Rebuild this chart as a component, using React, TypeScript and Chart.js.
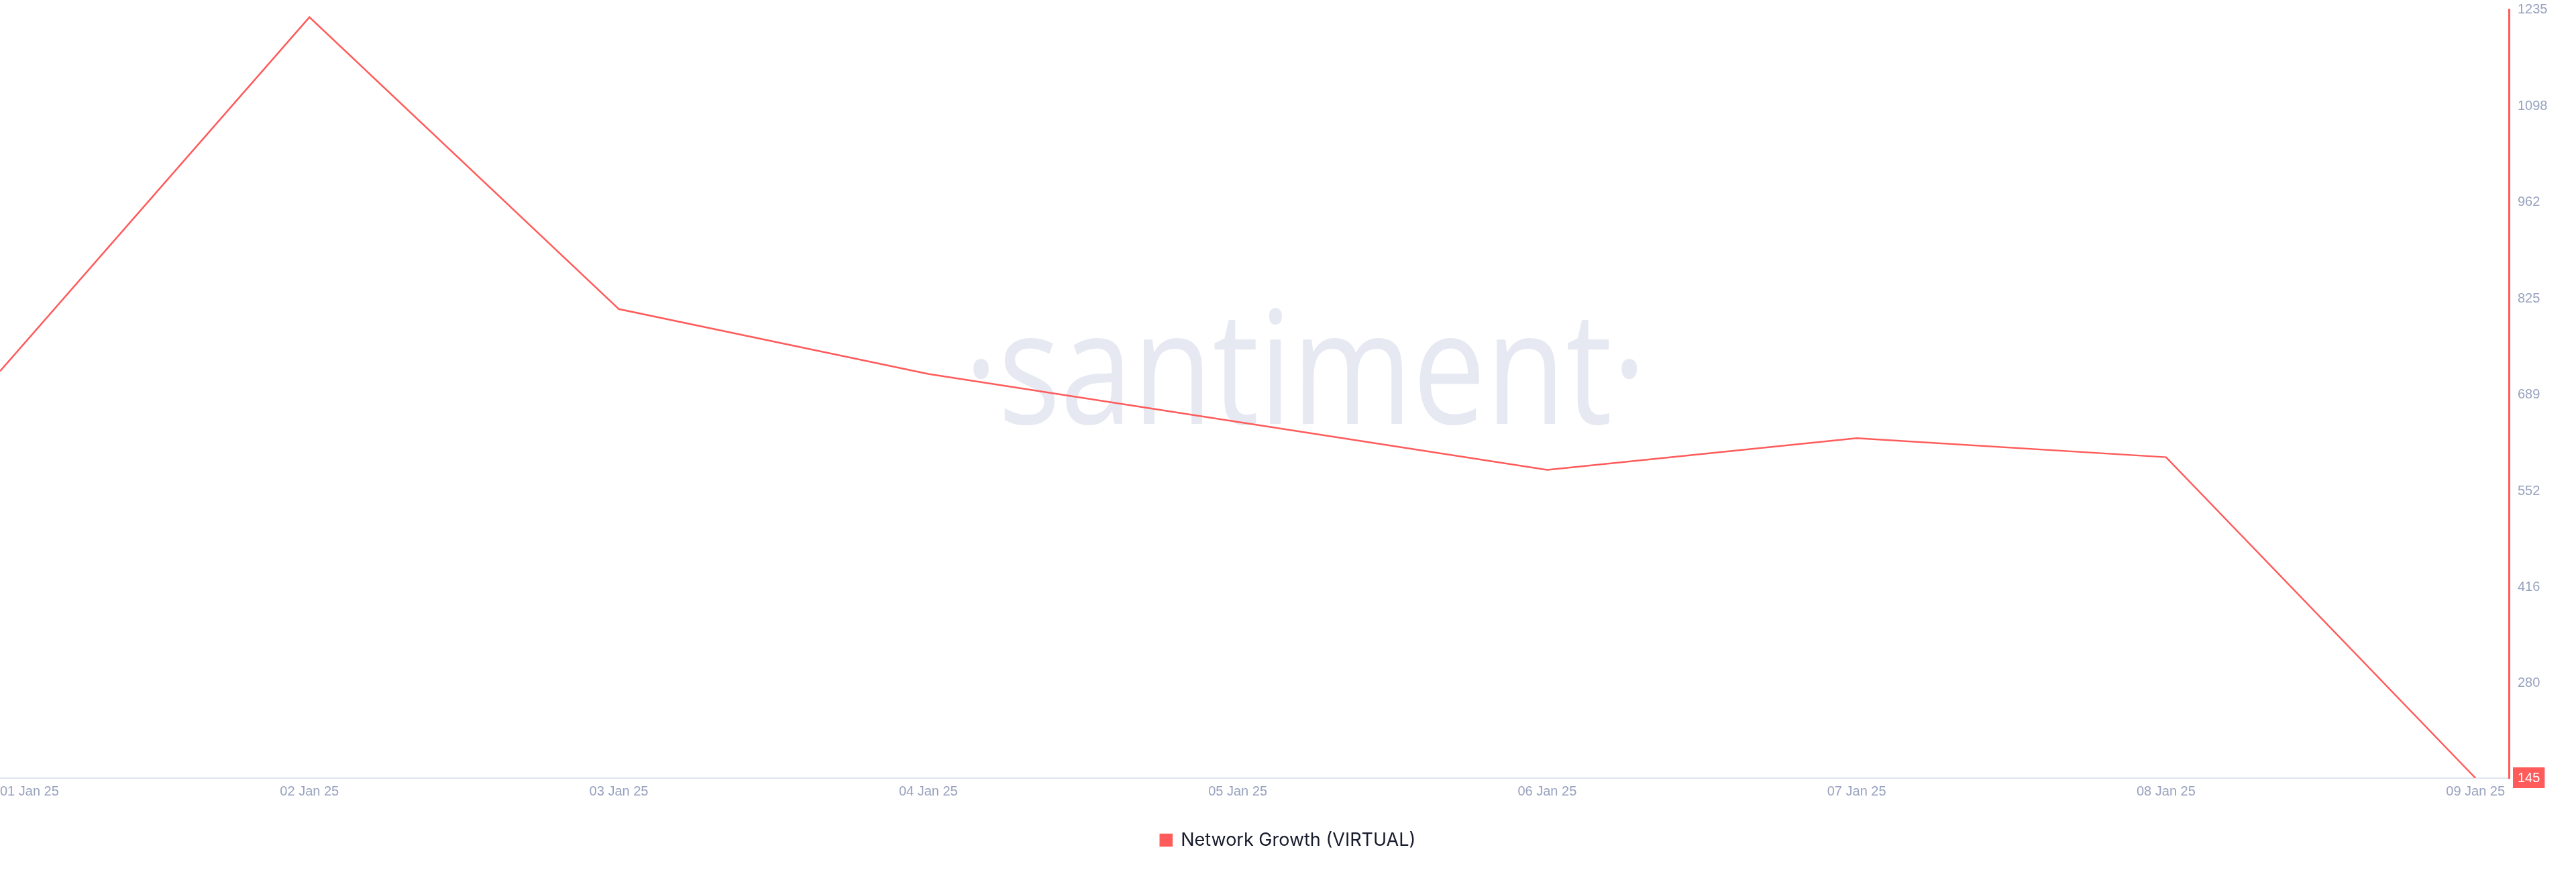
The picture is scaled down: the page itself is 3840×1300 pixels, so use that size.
import React, { useEffect, useRef } from 'react';
import { Chart, registerables } from 'chart.js';

Chart.register(...registerables);

// ---- data ----
const dateLabels = [
  '01 Jan 25',
  '02 Jan 25',
  '03 Jan 25',
  '04 Jan 25',
  '05 Jan 25',
  '06 Jan 25',
  '07 Jan 25',
  '08 Jan 25',
  '09 Jan 25',
];
const networkGrowth = [722, 1224, 810, 718, 650, 582, 627, 600, 145];
const yTickValues = [145, 280, 416, 552, 689, 825, 962, 1098, 1235];
const yMin = 145;
const yMax = 1235;
const xMax = 8.108;
const seriesLabel = 'Network Growth (VIRTUAL)';
const watermarkText = '·santiment·';

const RED = '#ff5b5b';
const TICK_COLOR = '#98a2bf';

const watermarkPlugin = {
  id: 'watermark',
  beforeDatasetsDraw(chart: any) {
    const { ctx, chartArea } = chart;
    const w = chartArea.right - chartArea.left;
    const h = chartArea.bottom - chartArea.top;
    const cx = chartArea.left + 0.5202 * w;
    const baseline = chartArea.top + 0.539 * h;
    ctx.save();
    ctx.font = '400 234px "Open Sans"';
    const core = ctx.measureText('santiment').width;
    const sx = (0.2447 * w) / core;
    ctx.translate(cx, baseline);
    ctx.scale(sx, 1);
    ctx.fillStyle = '#e6e9f2';
    ctx.textAlign = 'center';
    ctx.textBaseline = 'alphabetic';
    ctx.fillText(watermarkText, 0, 0);
    ctx.restore();
  },
};

export default function App() {
  const canvasRef = useRef<HTMLCanvasElement | null>(null);

  useEffect(() => {
    document.body.style.margin = '0';
    document.body.style.overflow = 'hidden';
    const canvas = canvasRef.current;
    if (!canvas) return;

    const points = dateLabels.map((_, i) => ({ x: i, y: networkGrowth[i] }));

    const chart = new Chart(canvas, {
      type: 'line',
      data: {
        datasets: [
          {
            label: seriesLabel,
            data: points,
            borderColor: RED,
            backgroundColor: RED,
            borderWidth: 2.5,
            pointRadius: 0,
            pointHoverRadius: 0,
            tension: 0,
            fill: false,
          },
        ],
      },
      plugins: [watermarkPlugin],
      options: {
        animation: false,
        responsive: true,
        maintainAspectRatio: false,
        devicePixelRatio: 1,
        layout: { padding: { top: 14, right: 0, bottom: 24, left: 0 } },
        plugins: {
          tooltip: { enabled: false },
          legend: {
            display: true,
            position: 'bottom',
            labels: {
              boxWidth: 17,
              boxHeight: 17,
              padding: 10,
              color: '#181b2b',
              font: { family: 'Inter', size: 27 },
            },
          },
        },
        scales: {
          x: {
            type: 'linear',
            min: 0,
            max: xMax,
            afterBuildTicks: (scale: any) => {
              scale.ticks = [
                ...dateLabels.map((_, i) => ({ value: i })),
                { value: xMax },
              ];
            },
            afterFit: (scale: any) => {
              scale.height = 69;
            },
            grid: {
              display: true,
              drawOnChartArea: false,
              drawTicks: true,
              tickLength: 8,
              color: 'transparent',
            },
            border: { display: true, color: '#e1e5ef', width: 2 },
            ticks: {
              autoSkip: false,
              maxRotation: 0,
              minRotation: 0,
              align: 'inner',
              padding: 0,
              color: TICK_COLOR,
              font: { family: 'Liberation Sans', size: 20 },
              callback: (value: any) =>
                Number.isInteger(value) ? dateLabels[value] ?? '' : '',
            },
          },
          y: {
            type: 'linear',
            position: 'right',
            min: yMin,
            max: yMax,
            afterBuildTicks: (scale: any) => {
              scale.ticks = yTickValues.map((v) => ({ value: v }));
            },
            afterFit: (scale: any) => {
              scale.width = 100;
            },
            grid: {
              display: true,
              drawOnChartArea: false,
              drawTicks: true,
              tickLength: 13,
              color: 'transparent',
            },
            border: { display: true, color: RED, width: 3 },
            ticks: {
              padding: 0,
              font: { family: 'Liberation Sans', size: 20 },
              color: (ctx: any) =>
                ctx.tick && ctx.tick.value === yMin ? '#ffffff' : TICK_COLOR,
              showLabelBackdrop: (ctx: any) =>
                !!ctx.tick && ctx.tick.value === yMin,
              backdropColor: RED,
              backdropPadding: { top: 4, bottom: 3, left: 7, right: 7 },
              callback: (value: any) => String(value),
            },
          },
        },
      },
    } as any);

    return () => {
      chart.destroy();
    };
  }, []);

  return (
    <div style={{ width: '3840px', height: '1300px', position: 'relative' }}>
      <canvas ref={canvasRef} />
    </div>
  );
}
